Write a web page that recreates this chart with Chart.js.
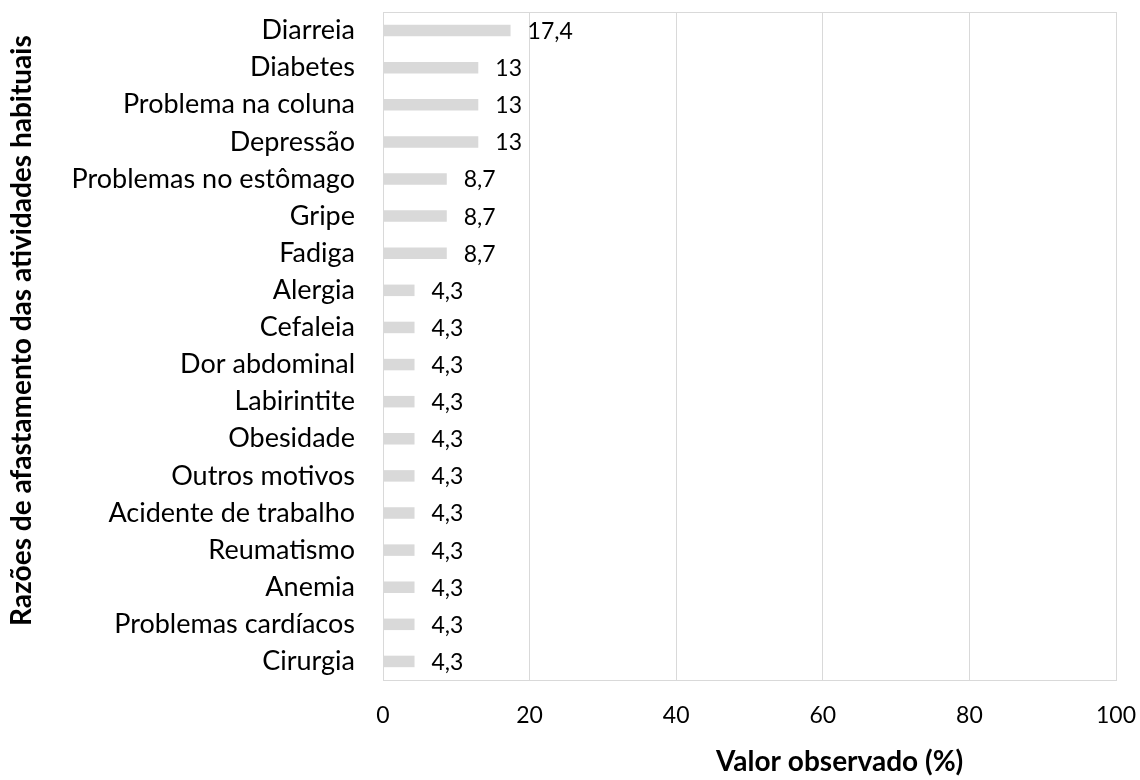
<!DOCTYPE html>
<html><head><meta charset="utf-8">
<script src="https://cdn.jsdelivr.net/npm/chart.js@4.4.0/dist/chart.umd.min.js"></script>
<style>html,body{margin:0;padding:0;background:#fff}canvas{display:block}</style>
</head><body>
<canvas id="c" width="1140" height="780"></canvas>
<script>
const categories = ["Diarreia","Diabetes","Problema na coluna","Depressão","Problemas no estômago","Gripe","Fadiga","Alergia","Cefaleia","Dor abdominal","Labirintite","Obesidade","Outros motivos","Acidente de trabalho","Reumatismo","Anemia","Problemas cardíacos","Cirurgia"];
const values = [17.4,13,13,13,8.7,8.7,8.7,4.3,4.3,4.3,4.3,4.3,4.3,4.3,4.3,4.3,4.3,4.3];
const xTicks = [0,20,40,60,80,100];
const yTitle = "Razões de afastamento das atividades habituais";
const xTitle = "Valor observado (%)";
const FONT = "Lato, 'Open Sans', sans-serif";

const extras = {
  id:'extras',
  beforeDatasetsDraw(chart){
    const {ctx, chartArea:a} = chart;
    ctx.save();
    ctx.strokeStyle = '#d9d9d9'; ctx.lineWidth = 1;
    ctx.strokeRect(Math.round(a.left)+0.5, Math.round(a.top)+0.5, Math.round(a.right-a.left), Math.round(a.bottom-a.top));
    ctx.restore();
  },
  afterDatasetsDraw(chart){
    const {ctx, chartArea:a} = chart;
    const meta = chart.getDatasetMeta(0);
    ctx.save();
    ctx.font = "23px " + FONT; ctx.fillStyle = '#000';
    ctx.textBaseline = 'middle'; ctx.textAlign = 'left';
    meta.data.forEach((bar,i)=>{
      ctx.fillText(String(values[i]).replace('.',','), bar.x + 17, bar.y + 1);
    });
    ctx.font = "bold 28px " + FONT;
    ctx.textAlign = 'center';
    ctx.fillText(xTitle, a.left + (a.right-a.left)*0.623, a.bottom + 82);
    ctx.translate(22, a.top + (a.bottom-a.top)*0.477);
    ctx.rotate(-Math.PI/2);
    ctx.fillText(yTitle, 0, 0);
    ctx.restore();
  }
};

new Chart(document.getElementById('c'), {
  type:'bar',
  data:{labels:categories, datasets:[{data:values, backgroundColor:'#d9d9d9', categoryPercentage:1, barPercentage:0.31}]},
  options:{
    indexAxis:'y', responsive:false, animation:false,
    layout:{padding:{top:12, right:24, bottom:0, left:0}},
    plugins:{legend:{display:false}, tooltip:{enabled:false}},
    scales:{
      x:{min:0,max:100,
        afterBuildTicks(s){ s.ticks = xTicks.map(v=>({value:v})); },
        afterFit(s){ s.height = 100; s.paddingLeft = 0; s.paddingRight = 0; },
        grid:{color:'#d9d9d9', drawTicks:false},
        border:{display:false},
        ticks:{padding:22, maxRotation:0, color:'#000', font:{size:23, family:FONT}}
      },
      y:{
        afterFit(s){ s.width = 383; s.paddingTop = 0; s.paddingBottom = 0; },
        grid:{display:false, drawTicks:false},
        border:{display:false},
        ticks:{padding:28, autoSkip:false, color:'#000', font:{size:27, family:FONT}}
      }
    }
  },
  plugins:[extras]
});
</script>
</body></html>
